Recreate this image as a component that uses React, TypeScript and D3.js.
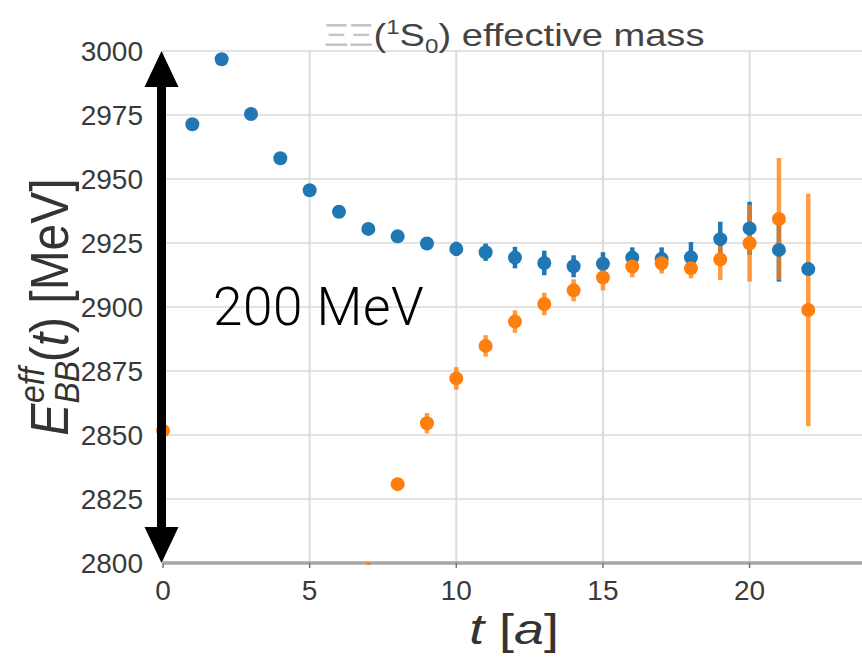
import React from "react";
import * as d3 from "d3";

// Effective mass E_BB^eff(t) of the ΞΞ(1S0) channel, two source types
const blueT = [1, 2, 3, 4, 5, 6, 7, 8, 9, 10, 11, 12, 13, 14, 15, 16, 17, 18, 19, 20, 21, 22];
const blueE = [2971.4, 2996.8, 2975.4, 2958.1, 2945.6, 2937.2, 2930.5, 2927.6, 2924.8, 2922.7, 2921.4, 2919.3, 2917.2, 2915.9, 2916.9, 2919.3, 2918.8, 2919.4, 2926.5, 2930.7, 2922.3, 2914.8];
const blueErr = [1.5, 1.5, 1.5, 1.5, 1.6, 1.8, 2.0, 2.2, 2.5, 2.8, 3.4, 4.2, 4.8, 4.3, 4.5, 4.0, 4.5, 6.0, 6.8, 10.4, 12.4, 2.5];

const orangeT = [0, 7, 8, 9, 10, 11, 12, 13, 14, 15, 16, 17, 18, 19, 20, 21, 22];
const orangeE = [2851.7, 2795.0, 2830.8, 2854.6, 2872.1, 2884.8, 2894.3, 2901.2, 2906.5, 2911.5, 2915.8, 2917.1, 2915.1, 2918.6, 2924.9, 2934.4, 2898.8];
const orangeErr = [2.0, 5.3, 2.2, 4.0, 4.4, 4.2, 4.4, 4.4, 4.3, 5.0, 4.2, 4.0, 3.9, 8.1, 15.0, 23.8, 45.4];

const yTicks = [2800, 2825, 2850, 2875, 2900, 2925, 2950, 2975, 3000];
const xTicks = [0, 5, 10, 15, 20];

const arrowTop = 3000;
const arrowBottom = 2800;
const arrowLabel = "200 MeV";

const W = 862;
const H = 662;
const BLUE = "#1f77b4";
const ORANGE = "#ff7f0e";

const x = d3.scaleLinear().domain([0, 24]).range([163, 163 + 24 * 29.33]);
const y = d3.scaleLinear().domain([2800, 3000]).range([563, 51]);

type Pt = { t: number; e: number; err: number };
const zip = (t: number[], e: number[], err: number[]): Pt[] =>
  t.map((tt, i) => ({ t: tt, e: e[i], err: err[i] }));

const blue = zip(blueT, blueE, blueErr);
const orange = zip(orangeT, orangeE, orangeErr);

function ErrorBars({ data, color, opacity }: { data: Pt[]; color: string; opacity: number }) {
  return (
    <g stroke={color} strokeWidth={4.5} opacity={opacity}>
      {data.map((d) => (
        <line key={d.t} x1={x(d.t)} x2={x(d.t)} y1={y(d.e - d.err)} y2={y(d.e + d.err)} />
      ))}
    </g>
  );
}

function Dots({ data, color }: { data: Pt[]; color: string }) {
  return (
    <g fill={color}>
      {data.map((d) => (
        <circle key={d.t} cx={x(d.t)} cy={y(d.e)} r={7} />
      ))}
    </g>
  );
}

function Arrow() {
  const cx = x(0) - 1.5;
  const top = y(arrowTop);
  const bot = y(arrowBottom);
  const hw = 17;
  const hh = 36;
  const sw = 4.5;
  const path = d3.path();
  path.moveTo(cx, top);
  path.lineTo(cx + hw, top + hh);
  path.lineTo(cx + sw, top + hh);
  path.lineTo(cx + sw, bot - hh);
  path.lineTo(cx + hw, bot - hh);
  path.lineTo(cx, bot);
  path.lineTo(cx - hw, bot - hh);
  path.lineTo(cx - sw, bot - hh);
  path.lineTo(cx - sw, top + hh);
  path.lineTo(cx - hw, top + hh);
  path.closePath();
  return <path d={path.toString()} fill="#000" />;
}

export default function App() {
  const font = "'Liberation Sans', Arial, Helvetica, sans-serif";
  return (
    <svg
      width={W}
      height={H}
      viewBox={`0 0 ${W} ${H}`}
      style={{ position: "absolute", left: 0, top: 0, background: "#fff" }}
      fontFamily={font}
    >
      <defs>
        <clipPath id="plotClip">
          <rect x={140} y={30} width={W - 140} height={y(2800) + 2 - 30} />
        </clipPath>
      </defs>

      {/* grid */}
      <g stroke="#e3e3e3" strokeWidth={2}>
        {yTicks.map((v) => (
          <line key={v} x1={x(0)} x2={W} y1={y(v)} y2={y(v)} />
        ))}
        {xTicks.map((v) => (
          <line key={v} x1={x(v)} x2={x(v)} y1={y(3000)} y2={y(2800)} stroke="#dcdcdc" />
        ))}
      </g>

      {/* bottom axis */}
      <line x1={x(0)} x2={W} y1={y(2800)} y2={y(2800)} stroke="#a6a6a6" strokeWidth={3.5} />
      <g stroke="#777" strokeWidth={1.5}>
        {xTicks.map((v) => (
          <line key={v} x1={x(v)} x2={x(v)} y1={y(2800)} y2={y(2800) + 5} />
        ))}
      </g>

      {/* tick labels */}
      <g fontSize={28} fill="#3a3a3a">
        {yTicks.map((v) => (
          <text key={v} x={143} y={y(v)} textAnchor="end" dominantBaseline="central">
            {v}
          </text>
        ))}
        {xTicks.map((v) => (
          <text key={v} x={x(v)} y={590} textAnchor="middle" dominantBaseline="central">
            {v}
          </text>
        ))}
      </g>

      {/* series */}
      <g clipPath="url(#plotClip)">
        <ErrorBars data={blue} color={BLUE} opacity={1} />
        <ErrorBars data={orange} color={ORANGE} opacity={0.78} />
        <Dots data={blue} color={BLUE} />
        <Dots data={orange} color={ORANGE} />
      </g>

      {/* title */}
      <g transform="translate(324,46) scale(1.27,1.03)">
        <text fontSize={30} fill="#444">
          <tspan fill="#c4c4c4">ΞΞ</tspan>
          <tspan>(</tspan>
          <tspan fontSize={19} dy={-12}>1</tspan>
          <tspan dy={12}>S</tspan>
          <tspan fontSize={19} dy={7}>0</tspan>
          <tspan dy={-7}>) effective mass</tspan>
        </text>
      </g>

      {/* axis titles */}
      <g transform="translate(514,644) scale(1.28,1)">
        <text fontSize={42} fill="#333" textAnchor="middle">
          <tspan fontStyle="italic">t</tspan>
          <tspan> [</tspan>
          <tspan fontStyle="italic">a</tspan>
          <tspan>]</tspan>
        </text>
      </g>
      <g transform="translate(68,307) rotate(-90) scale(1.0,1.12)">
        <text fontSize={48} fill="#333" textAnchor="middle">
          <tspan fontStyle="italic">E</tspan>
          <tspan fontStyle="italic" fontSize={32} dy={10}>BB</tspan>
          <tspan fontStyle="italic" fontSize={32} dx={-42} dy={-31}>eff</tspan>
          <tspan dx={5} dy={21}>(</tspan>
          <tspan fontStyle="italic">t</tspan>
          <tspan>) [MeV]</tspan>
        </text>
      </g>

      {/* span annotation */}
      <Arrow />
      <text x={213} y={325} fontSize={53} fill="#000" fontFamily="Roboto, 'Liberation Sans', sans-serif" fontWeight={300} letterSpacing={0.6}>
        {arrowLabel}
      </text>
    </svg>
  );
}
